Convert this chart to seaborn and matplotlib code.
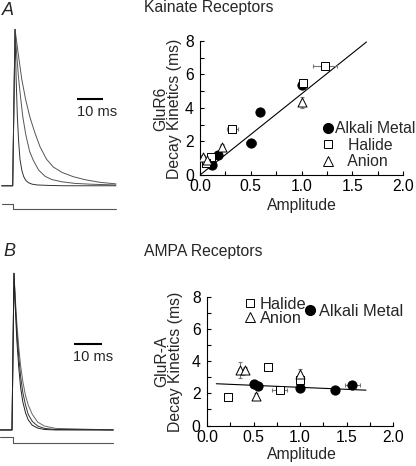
import matplotlib
matplotlib.use("Agg")
import matplotlib.pyplot as plt
from matplotlib.lines import Line2D
from matplotlib.ticker import MultipleLocator
import seaborn as sns

# ---- traces (time in ms, amplitude normalised to peak) ----
trace_a_fast_t = [-4.2, 0.0, 0.9, 1.3, 1.8, 2.3, 2.8, 3.5, 4.2, 5.0, 6.0, 7.5, 9.5, 14, 20, 30, 39.7]
trace_a_fast_v = [0, 0, 1.0, 0.70, 0.44, 0.28, 0.17, 0.10, 0.06, 0.035, 0.02, 0.01, 0.005, 0.002, 0, 0, 0]
trace_a_mid_t = [-4.2, 0.0, 0.9, 1.5, 2.2, 3.0, 3.9, 5.0, 6.5, 8.0, 10, 12.5, 15, 19, 24, 30, 39.7]
trace_a_mid_v = [0, 0, 1.0, 0.85, 0.70, 0.57, 0.44, 0.33, 0.22, 0.16, 0.10, 0.06, 0.04, 0.025, 0.015, 0.01, 0.005]
trace_a_slow_t = [-4.2, 0.0, 0.9, 2.0, 3.5, 5.0, 6.6, 8.5, 10.5, 13, 15.6, 19, 23.3, 28, 33.6, 39.7]
trace_a_slow_v = [0, 0, 1.0, 0.86, 0.68, 0.55, 0.44, 0.34, 0.25, 0.17, 0.12, 0.085, 0.058, 0.038, 0.022, 0.012]
step_a_t = [-4.2, 0.2, 0.2, 39.7]
step_a_v = [-0.117, -0.117, -0.147, -0.147]

trace_b_t = [-4.4, 0.0, 0.74, 1.2, 1.8, 2.5, 3.2, 4.0, 5.0, 6.0, 7.5, 9.5, 12, 16, 37.5]
trace_b1_v = [0, 0, 1.0, 0.79, 0.57, 0.40, 0.27, 0.18, 0.11, 0.065, 0.03, 0.012, 0.003, 0, 0]
trace_b2_v = [0, 0, 1.0, 0.82, 0.63, 0.47, 0.34, 0.24, 0.16, 0.10, 0.055, 0.025, 0.01, 0.003, 0]
trace_b3_v = [0, 0, 1.0, 0.85, 0.68, 0.53, 0.41, 0.31, 0.22, 0.16, 0.10, 0.05, 0.025, 0.01, 0]
step_b_t = [-4.4, 0.2, 0.2, 37.5]
step_b_v = [-0.047, -0.047, -0.086, -0.086]

# ---- Kainate (GluR6) scatter ----
a_alkali_x = [0.59, 0.50, 0.18, 0.12, 1.00]
a_alkali_y = [3.78, 1.93, 1.19, 0.60, 5.40]
a_alkali_xerr = [0.03, 0.05, 0.02, 0.02, 0.0]
a_alkali_yerr = [0.10, 0.10, 0.05, 0.05, 0.10]
a_halide_x = [1.23, 1.01, 0.32, 0.11, 0.06]
a_halide_y = [6.53, 5.50, 2.75, 1.10, 0.73]
a_halide_xerr = [0.12, 0.0, 0.05, 0.03, 0.02]
a_halide_yerr = [0.15, 0.25, 0.10, 0.10, 0.10]
a_anion_x = [1.00, 0.22, 0.03, 0.07]
a_anion_y = [4.34, 1.70, 1.10, 0.88]
a_anion_xerr = [0.0, 0.02, 0.02, 0.02]
a_anion_yerr = [0.32, 0.15, 0.10, 0.10]
a_fit_x = [0.0, 1.64]
a_fit_y = [0.0, 7.94]

# ---- AMPA (GluR-A) scatter ----
b_alkali_x = [0.51, 0.545, 1.00, 1.375, 1.56]
b_alkali_y = [2.59, 2.48, 2.31, 2.23, 2.53]
b_alkali_xerr = [0.02, 0.02, 0.01, 0.04, 0.08]
b_alkali_yerr = [0.1, 0.1, 0.1, 0.1, 0.1]
b_halide_x = [0.23, 0.66, 0.78, 1.00]
b_halide_y = [1.75, 3.62, 2.23, 2.81]
b_halide_xerr = [0.01, 0.01, 0.085, 0.01]
b_halide_yerr = [0.12, 0.15, 0.10, 0.22]
b_anion_x = [0.35, 0.405, 0.53, 1.00]
b_anion_y = [3.44, 3.44, 1.81, 3.20]
b_anion_xerr = [0.02, 0.02, 0.01, 0.01]
b_anion_yerr = [0.49, 0.20, 0.20, 0.30]
b_fit_x = [0.10, 1.71]
b_fit_y = [2.60, 2.20]

sns.set_style("ticks")
plt.rcParams['font.family'] = ['Liberation Sans', 'DejaVu Sans']
plt.rcParams['font.size'] = 11.3

W, H = 416, 466
fig = plt.figure(figsize=(W / 100, H / 100), dpi=100)


def box(x0, y0, x1, y1):
    # pixel box (top-left origin) -> figure fraction
    return [x0 / W, 1 - y1 / H, (x1 - x0) / W, (y1 - y0) / H]


def draw_traces(ax, traces, step, xlim, ylim, bar_t, bar_v, text_t, text_v):
    for t, v, c in traces:
        ax.plot(t, v, color=c, lw=0.7)
    ax.plot(step[0], step[1], color="#555555", lw=0.8)
    ax.plot(bar_t, [bar_v, bar_v], color="black", lw=1.5, solid_capstyle="butt")
    ax.text(text_t, text_v, "10 ms", fontsize=10.5, ha="left", va="center")
    ax.set_xlim(*xlim)
    ax.set_ylim(*ylim)
    ax.axis("off")


def draw_scatter(ax, groups, fit_x, fit_y):
    sns.lineplot(x=fit_x, y=fit_y, ax=ax, color="black", lw=0.8)
    for x, y, xe, ye, marker, face, size in groups:
        ax.errorbar(x, y, xerr=xe, yerr=ye, fmt="none", ecolor="#777777",
                    elinewidth=0.8, capsize=1.5, capthick=0.8, zorder=2)
        sns.scatterplot(x=x, y=y, ax=ax, marker=marker, s=size, color=face,
                        edgecolor="black", linewidth=0.7, zorder=3)
    ax.set_xlim(0, 2.0)
    ax.set_ylim(0, 8)
    ax.xaxis.set_major_locator(MultipleLocator(0.5))
    ax.xaxis.set_minor_locator(MultipleLocator(0.25))
    ax.yaxis.set_major_locator(MultipleLocator(2))
    ax.yaxis.set_minor_locator(MultipleLocator(1))
    ax.xaxis.set_major_formatter(plt.FormatStrFormatter("%.1f"))
    ax.tick_params(which="both", direction="in", length=3, width=0.8,
                   labelsize=11.3, colors="black")
    ax.tick_params(axis="x", pad=3)
    ax.tick_params(axis="y", pad=4.5)
    sns.despine(ax=ax)
    for s in ["left", "bottom"]:
        ax.spines[s].set_linewidth(0.8)
        ax.spines[s].set_color("black")
    ax.set_xlabel("Amplitude", fontsize=11.3)


# ---- panel A ----
ax_ta = fig.add_axes(box(0, 20, 120, 215))
draw_traces(ax_ta,
            [(trace_a_slow_t, trace_a_slow_v, "#555555"),
             (trace_a_mid_t, trace_a_mid_v, "#555555"),
             (trace_a_fast_t, trace_a_fast_v, "#333333")],
            (step_a_t, step_a_v), (-4.88, 41.27), (-0.187, 1.06),
            [24.8, 34.8], 0.554, 24.8, 0.47)

ax_a = fig.add_axes(box(200, 41, 403, 175))
draw_scatter(ax_a,
             [(a_alkali_x, a_alkali_y, a_alkali_xerr, a_alkali_yerr, "o", "black", 44),
              (a_halide_x, a_halide_y, a_halide_xerr, a_halide_yerr, "s", "white", 30),
              (a_anion_x, a_anion_y, a_anion_xerr, a_anion_yerr, "^", "white", 42)],
             a_fit_x, a_fit_y)
ax_a.xaxis.set_label_coords(0.502, -0.17)

# ---- panel B ----
ax_tb = fig.add_axes(box(0, 260, 120, 455))
draw_traces(ax_tb,
            [(trace_b_t, trace_b3_v, "#666666"),
             (trace_b_t, trace_b2_v, "#333333"),
             (trace_b_t, trace_b1_v, "#222222")],
            (step_b_t, step_b_v), (-4.44, 40.0), (-0.16, 1.085),
            [23.0, 33.2], 0.549, 22.6, 0.466)

ax_b = fig.add_axes(box(207, 297, 393, 425.5))
draw_scatter(ax_b,
             [(b_alkali_x, b_alkali_y, b_alkali_xerr, b_alkali_yerr, "o", "black", 44),
              (b_halide_x, b_halide_y, b_halide_xerr, b_halide_yerr, "s", "white", 30),
              (b_anion_x, b_anion_y, b_anion_xerr, b_anion_yerr, "^", "white", 42)],
             b_fit_x, b_fit_y)
ax_b.xaxis.set_label_coords(0.509, -0.17)

# ---- legends ----
h_alk = Line2D([], [], ls="none", marker="o", ms=7, mfc="black", mec="black")
h_hal = Line2D([], [], ls="none", marker="s", ms=6, mfc="white", mec="black", mew=0.7)
h_ani = Line2D([], [], ls="none", marker="^", ms=7.5, mfc="white", mec="black", mew=0.7)

ax_a.legend([h_alk, h_hal, h_ani], ["Alkali Metal", "   Halide", "   Anion"],
            loc="upper left", bbox_to_anchor=(323 / W, 1 - 121 / H),
            bbox_transform=fig.transFigure, frameon=False, borderpad=0,
            borderaxespad=0, handlelength=0.6, handletextpad=0.15,
            labelspacing=0.1, fontsize=11.3)

leg1 = ax_b.legend([h_hal, h_ani], ["Halide", "Anion"],
                   loc="upper left", bbox_to_anchor=(245 / W, 1 - 297 / H),
                   bbox_transform=fig.transFigure, frameon=False, borderpad=0,
                   borderaxespad=0, handlelength=0.6, handletextpad=0.3,
                   labelspacing=-0.05, fontsize=11.8)
ax_b.add_artist(leg1)
ax_b.legend([h_alk], ["Alkali Metal"],
            loc="upper left", bbox_to_anchor=(305.5 / W, 1 - 304 / H),
            bbox_transform=fig.transFigure, frameon=False, borderpad=0,
            borderaxespad=0, handlelength=0.6, handletextpad=0.2, fontsize=11.8)

# ---- titles and labels ----
fig.text(1.5 / W, 1 - 15 / H, "A", fontsize=13, style="italic", va="baseline")
fig.text(3.3 / W, 1 - 256 / H, "B", fontsize=13, style="italic", va="baseline")
fig.text(144 / W, 1 - 12 / H, "Kainate Receptors", fontsize=11.3, va="baseline")
fig.text(144 / W, 1 - 256 / H, "AMPA Receptors", fontsize=11.3, va="baseline")
fig.text(167.5 / W, 1 - 109 / H, "GluR6\nDecay Kinetics (ms)", rotation=90,
         ha="center", va="center", multialignment="center", linespacing=0.85,
         fontsize=11.3)
fig.text(168.5 / W, 1 - 361.5 / H, "GluR-A\nDecay Kinetics (ms)", rotation=90,
         ha="center", va="center", multialignment="center", linespacing=0.85,
         fontsize=11.3)

fig.savefig("out.png", dpi=100)
